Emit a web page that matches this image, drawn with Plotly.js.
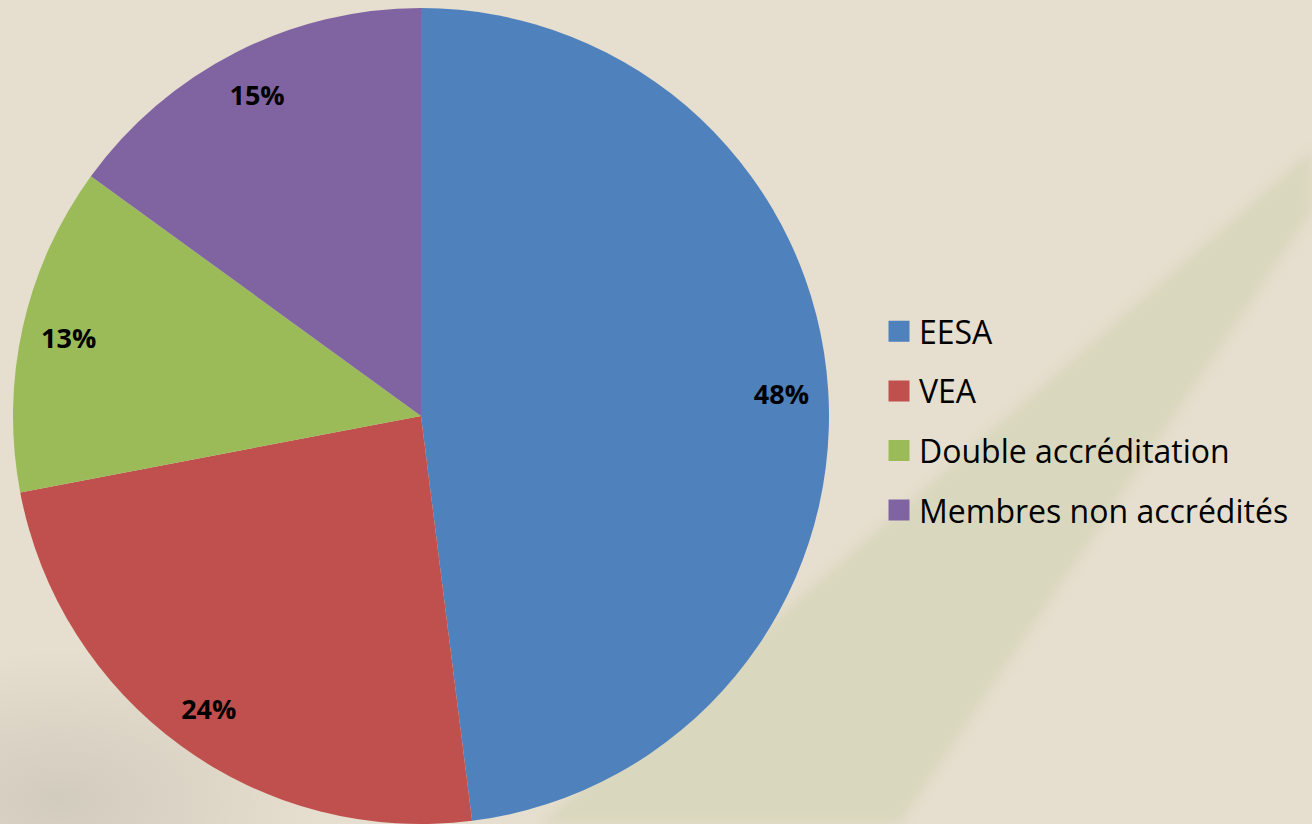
<!DOCTYPE html>
<html>
<head>
<meta charset="utf-8">
<script src="https://cdn.plot.ly/plotly-3.0.1.min.js"></script>
<style>
    html, body {
        margin: 0;
        padding: 0;
        width: 1312px;
        height: 824px;
        overflow: hidden;
        background-color: #e6dece;
    }
    #backdrop {
        position: absolute;
        left: 0;
        top: 0;
    }
    #chart {
        position: absolute;
        left: 0;
        top: 0;
        width: 1312px;
        height: 824px;
    }
</style>
</head>
<body>
<!-- faint paper texture: green streak and a greyish shadow -->
<svg id="backdrop" width="1312" height="824">
    <defs>
        <filter id="soft"><feGaussianBlur stdDeviation="6"/></filter>
        <radialGradient id="shade" cx="0.5" cy="0.5" r="0.5">
            <stop offset="0" stop-color="#c9c4b8" stop-opacity="0.7"/>
            <stop offset="1" stop-color="#c9c4b8" stop-opacity="0"/>
        </radialGradient>
    </defs>
    <polygon points="1312,150 1312,212 900,824 540,824" fill="#cfd2b0" opacity="0.55" filter="url(#soft)"/>
    <ellipse cx="60" cy="800" rx="260" ry="150" fill="url(#shade)"/>
</svg>
<div id="chart"></div>
<script>
// slice categories and their shares (%)
const categories = ["EESA", "VEA", "Double accréditation", "Membres non accrédités"];
const shares = [48, 24, 13, 15];
const colors = ["#4f81bd", "#c0504d", "#9bbb59", "#8064a2"];

const pieDomain = {x: [13 / 1312, 829 / 1312], y: [0, 816 / 824]};

let data = [];

// the pie itself, no text
data.push({
    type: "pie",
    labels: categories,
    values: shares,
    sort: false,
    direction: "clockwise",
    rotation: 0,
    domain: pieDomain,
    marker: {colors: colors, line: {width: 0}},
    textinfo: "none",
    hoverinfo: "skip",
    showlegend: false
});

// transparent ring on top, just to place the percentage labels near the rim
data.push({
    type: "pie",
    labels: categories,
    values: shares,
    sort: false,
    direction: "clockwise",
    rotation: 0,
    hole: 0.77,
    domain: pieDomain,
    marker: {colors: categories.map(() => "rgba(0,0,0,0)"), line: {width: 0}},
    textinfo: "percent",
    textposition: "inside",
    insidetextorientation: "horizontal",
    insidetextfont: {family: "Open Sans", size: 27, weight: "bold", color: "#000000"},
    hoverinfo: "skip",
    showlegend: false
});

// legend entries (square swatches)
for (let i = 0; i < categories.length; i++) {
    data.push({
        type: "scatter",
        x: [null],
        y: [null],
        mode: "markers",
        name: categories[i],
        legendgroup: "g" + i,
        marker: {symbol: "square", size: 16, color: colors[i], line: {width: 5, color: colors[i]}},
        hoverinfo: "skip"
    });
}

let layout = {
    width: 1312,
    height: 824,
    margin: {l: 0, r: 0, t: 0, b: 0},
    paper_bgcolor: "rgba(0,0,0,0)",
    plot_bgcolor: "rgba(0,0,0,0)",
    xaxis: {visible: false},
    yaxis: {visible: false},
    showlegend: true,
    legend: {
        x: 879 / 1312,
        xanchor: "left",
        y: (824 - 421) / 824,
        yanchor: "middle",
        bgcolor: "rgba(0,0,0,0)",
        font: {family: "Open Sans", size: 32, color: "#000000"},
        tracegroupgap: 15,
        traceorder: "grouped"
    }
};

Plotly.newPlot("chart", data, layout, {displayModeBar: false, staticPlot: true});
</script>
</body>
</html>
